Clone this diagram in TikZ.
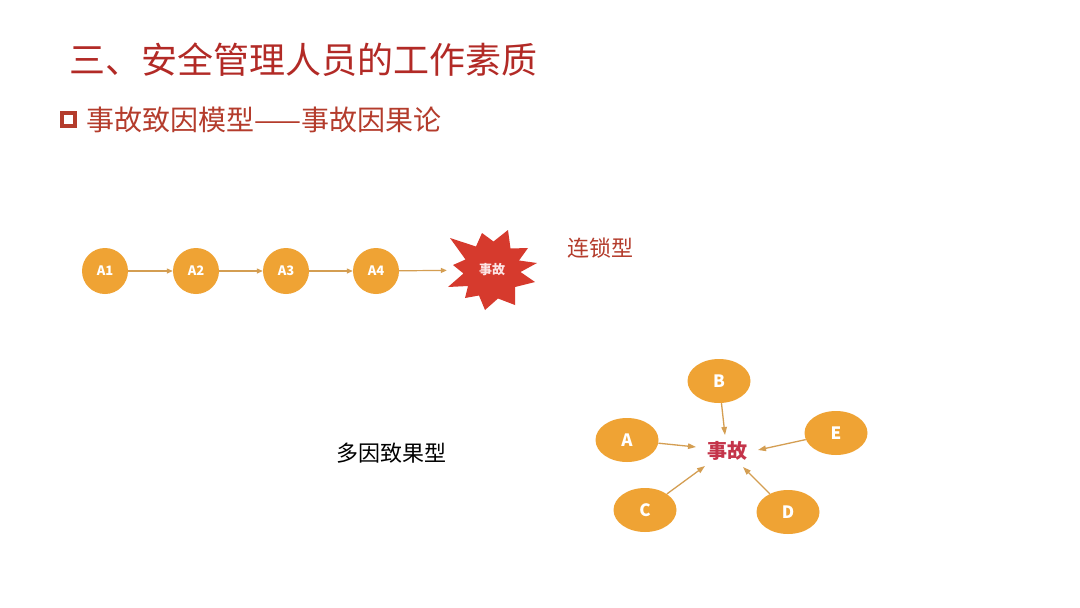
\documentclass[tikz,border=0pt]{standalone}
\usepackage{fontspec}
\setmainfont{Noto Sans CJK SC}
\usetikzlibrary{arrows.meta,shapes.geometric}
\definecolor{titlered}{RGB}{178,42,38}
\definecolor{subred}{RGB}{180,60,44}
\definecolor{orng}{RGB}{239,163,52}
\definecolor{arr}{RGB}{212,158,82}
\definecolor{starred}{RGB}{214,58,45}
\definecolor{accpink}{RGB}{196,52,74}
\definecolor{starlbl}{RGB}{252,228,228}
\begin{document}
\begin{tikzpicture}[x=1pt,y=-1pt,
  circ/.style={circle,fill=orng,minimum size=46pt,inner sep=0pt,text=white,font=\bfseries\fontsize{13}{13}\selectfont},
  ell/.style={ellipse,fill=orng,minimum width=63pt,minimum height=44pt,inner sep=0pt,text=white,font=\bfseries\fontsize{17}{17}\selectfont},
  link/.style={draw=arr,line width=1.2pt,-{Triangle[length=6pt,width=5pt]}},
  slink/.style={draw=arr,line width=1.3pt,-{Triangle[length=8pt,width=5.5pt]}},
  lbl/.style={inner sep=0pt},
]
\path[use as bounding box,fill=white] (0,0) rectangle (1080,608);

% headings
\node[lbl,anchor=west,text=titlered,font=\fontsize{36}{36}\selectfont] (title) at (69,60) {三、安全管理人员的工作素质};
\node[draw=subred,line width=4pt,minimum size=13pt,inner sep=0pt] (bul) at (68.5,119.5) {};
\node[lbl,anchor=west,text=subred,font=\fontsize{28}{28}\selectfont] (sub) at (86,120) {事故致因模型——事故因果论};

% chain model
\node[circ] (a1) at (105,271) {A1};
\node[circ] (a2) at (196,271) {A2};
\node[circ] (a3) at (286,271) {A3};
\node[circ] (a4) at (376,271) {A4};
\fill[starred,shift={(492,270)}]
  (43,12) -- (23.0,17.0) -- (23,35) -- (6.0,28.5) -- (-7,40) -- (-13.0,25.5)
  -- (-27,28) -- (-24.0,16.0) -- (-44,17) -- (-28.5,3.5) -- (-39,-5)
  -- (-26.5,-10.5) -- (-42,-32) -- (-16.0,-23.5) -- (-10,-37) -- (1.5,-28.5)
  -- (16,-40) -- (18.5,-21.5) -- (36,-22) -- (27.0,-9.5) -- (45,-7)
  -- (28.5,2.0) -- cycle;
\node[circle,minimum size=90pt,inner sep=0pt,text=starlbl,font=\bfseries\fontsize{13}{13}\selectfont] (acc1) at (492,270) {事故};
\draw[link] (a1) -- (a2);
\draw[link] (a2) -- (a3);
\draw[link] (a3) -- (a4);
\draw[link] (a4) -- (acc1);
\node[lbl,text=subred,font=\fontsize{22}{22}\selectfont] (chainlbl) at (600,248) {连锁型};

% multi-cause model
\node[lbl,text=black,font=\fontsize{22}{22}\selectfont] (multilbl) at (391,453) {多因致果型};
\node[lbl,text=accpink,font=\bfseries\fontsize{20}{20}\selectfont] (acc2) at (727,451) {事故};
\node[ell] (A) at (627,440) {A};
\node[ell] (B) at (719,381) {B};
\node[ell] (E) at (836,433) {E};
\node[ell] (C) at (645,510) {C};
\node[ell] (D) at (788,512) {D};
\coordinate (tA) at (696,447);
\coordinate (tB) at (725,435);
\coordinate (tE) at (758,450);
\coordinate (tC) at (705,466);
\coordinate (tD) at (743,467);
\draw[slink] (A) -- (tA);
\draw[slink] (B) -- (tB);
\draw[slink] (E) -- (tE);
\draw[slink] (C) -- (tC);
\draw[slink] (D) -- (tD);
\end{tikzpicture}
\end{document}
